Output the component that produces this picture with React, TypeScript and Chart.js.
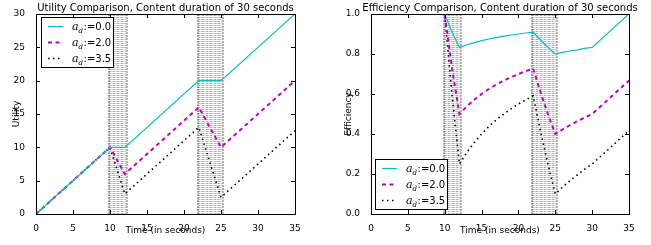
import React, { useEffect, useRef } from "react";
import { Chart, registerables } from "chart.js";
Chart.register(...registerables);

// ---------- data ----------
const timeUtility = [0, 10, 12, 22, 25, 35];
const utility00 = [0, 10, 10, 20, 20, 30];
const utility20 = [0, 10, 6, 16, 10, 20];
const utility35 = [0, 10, 3, 13, 2.5, 12.5];

const timeEfficiency = [0, 1, 2, 3, 4, 5, 6, 7, 8, 9, 10, 11, 12, 13, 14, 15, 16, 17, 18, 19, 20, 21, 22, 23, 24, 25, 26, 27, 28, 29, 30, 35];
const efficiency00 = [1, 1, 1, 1, 1, 1, 1, 1, 1, 1, 1, 0.909, 0.833, 0.846, 0.857, 0.867, 0.875, 0.882, 0.889, 0.895, 0.9, 0.905, 0.909, 0.87, 0.833, 0.8, 0.808, 0.815, 0.821, 0.828, 0.833, 1.0];
const efficiency20 = [1, 1, 1, 1, 1, 1, 1, 1, 1, 1, 1, 0.727, 0.5, 0.538, 0.571, 0.6, 0.625, 0.647, 0.667, 0.684, 0.7, 0.714, 0.727, 0.609, 0.5, 0.4, 0.423, 0.444, 0.464, 0.483, 0.5, 0.667];
const efficiency35 = [1, 1, 1, 1, 1, 1, 1, 1, 1, 1, 1, 0.591, 0.25, 0.308, 0.357, 0.4, 0.438, 0.471, 0.5, 0.526, 0.55, 0.571, 0.591, 0.413, 0.25, 0.1, 0.135, 0.167, 0.196, 0.224, 0.25, 0.417];

const stallStarts = [10, 22];
const stallEnds = [12, 25];
const seriesLabels = ["0.0", "2.0", "3.5"];
const seriesColors = ["#00bfbf", "#bf00bf", "#000000"];

const FONT = "'DejaVu Sans', sans-serif";

const styles = [
  { borderWidth: 1.2, borderDash: [] as number[] },
  { borderWidth: 2, borderDash: [4, 3.5] },
  { borderWidth: 1.6, borderDash: [1.5, 3.5] },
];

function makeDatasets(xs: number[], ys: number[][]) {
  return ys.map((arr, i) => ({
    label: seriesLabels[i],
    data: arr.map((v, j) => ({ x: xs[j], y: v })),
    borderColor: seriesColors[i],
    backgroundColor: seriesColors[i],
    borderWidth: styles[i].borderWidth,
    borderDash: styles[i].borderDash,
    pointRadius: 0,
    fill: false,
    tension: 0,
  }));
}

const customPlugin = {
  id: "mplLook",
  beforeDatasetsDraw(chart: any) {
    const { ctx, chartArea: a, scales } = chart;
    const xs = scales.x;
    ctx.save();
    ctx.beginPath();
    ctx.rect(a.left, a.top, a.right - a.left, a.bottom - a.top);
    ctx.clip();
    for (let k = 0; k < stallStarts.length; k++) {
      const x1 = Math.round(xs.getPixelForValue(stallStarts[k])) - 1.5;
      const x2 = Math.round(xs.getPixelForValue(stallEnds[k])) + 1.5;
      ctx.strokeStyle = "rgba(0,0,0,0.3)";
      ctx.lineWidth = 1;
      ctx.setLineDash([3, 1]);
      for (let y = a.top + 1; y < a.bottom; y += 2) {
        ctx.beginPath();
        ctx.moveTo(x1, y + 0.5);
        ctx.lineTo(x2, y + 0.5);
        ctx.stroke();
      }
      ctx.strokeStyle = "rgba(0,0,0,0.55)";
      ctx.setLineDash([2, 1]);
      [x1, x2].forEach((x) => {
        ctx.beginPath();
        ctx.moveTo(x + 0.5, a.top);
        ctx.lineTo(x + 0.5, a.bottom);
        ctx.stroke();
      });
    }
    ctx.restore();
  },
  afterDatasetsDraw(chart: any) {
    const { ctx, chartArea: a, scales } = chart;
    ctx.save();
    ctx.strokeStyle = "#000";
    ctx.lineWidth = 1;
    ctx.setLineDash([]);
    const L = 4;
    scales.x.ticks.forEach((t: any) => {
      const x = Math.round(scales.x.getPixelForValue(t.value)) + 0.5;
      ctx.beginPath();
      ctx.moveTo(x, a.bottom);
      ctx.lineTo(x, a.bottom - L);
      ctx.moveTo(x, a.top);
      ctx.lineTo(x, a.top + L);
      ctx.stroke();
    });
    scales.y.ticks.forEach((t: any) => {
      const y = Math.round(scales.y.getPixelForValue(t.value)) + 0.5;
      ctx.beginPath();
      ctx.moveTo(a.left, y);
      ctx.lineTo(a.left + L, y);
      ctx.moveTo(a.right, y);
      ctx.lineTo(a.right - L, y);
      ctx.stroke();
    });
    ctx.strokeRect(Math.round(a.left) + 0.5, Math.round(a.top) + 0.5, Math.round(a.right - a.left), Math.round(a.bottom - a.top));
    ctx.restore();
  },
  afterDraw(chart: any, _args: any, opts: any) {
    const { ctx, chartArea: a } = chart;
    ctx.save();
    // title
    ctx.fillStyle = "#000";
    ctx.font = `10px ${FONT}`;
    ctx.textAlign = "center";
    ctx.textBaseline = "alphabetic";
    ctx.fillText(opts.title, (a.left + a.right) / 2, 10.5);
    // x axis title
    ctx.font = `9px ${FONT}`;
    ctx.fillText("Time (in seconds)", (a.left + a.right) / 2, 233);
    // y axis title
    ctx.save();
    ctx.translate(opts.yTitleX, (a.top + a.bottom) / 2);
    ctx.rotate(-Math.PI / 2);
    ctx.textBaseline = "middle";
    ctx.fillText(opts.yTitle, 0, 0);
    ctx.restore();
    // legend
    const bw = 72, bh = 50;
    const bx = Math.round(a.left) + opts.legendDx;
    const by = opts.legendPos === "top" ? Math.round(a.top) + 3 : Math.round(a.bottom) - 5 - bh;
    ctx.fillStyle = "#fff";
    ctx.fillRect(bx, by, bw, bh);
    ctx.strokeStyle = "#000";
    ctx.lineWidth = 1;
    ctx.setLineDash([]);
    ctx.strokeRect(bx + 0.5, by + 0.5, bw, bh);
    const ds = chart.data.datasets;
    for (let i = 0; i < ds.length; i++) {
      const ry = by + 9 + i * 16;
      ctx.strokeStyle = ds[i].borderColor;
      ctx.lineWidth = ds[i].borderWidth;
      ctx.setLineDash(ds[i].borderDash);
      ctx.beginPath();
      ctx.moveTo(bx + 7, ry + 0.5);
      ctx.lineTo(bx + 22, ry + 0.5);
      ctx.stroke();
      ctx.setLineDash([]);
      ctx.fillStyle = "#000";
      ctx.textAlign = "left";
      ctx.textBaseline = "alphabetic";
      let tx = bx + 31;
      const base = ry + 4;
      ctx.font = "italic 11px 'DejaVu Serif', serif";
      ctx.fillText("a", tx, base);
      tx += ctx.measureText("a").width;
      ctx.font = "italic 7px 'DejaVu Serif', serif";
      ctx.fillText("d", tx, base + 2.5);
      tx += ctx.measureText("d").width + 0.5;
      ctx.font = `10px ${FONT}`;
      ctx.fillText(":=" + ds[i].label, tx, base);
    }
    ctx.restore();
  },
};

function buildConfig(o: {
  xs: number[];
  ys: number[][];
  yMax: number;
  yStep: number;
  yFmt: (v: number) => string;
  yWidth: number;
  padRight: number;
  title: string;
  yTitle: string;
  yTitleX: number;
  legendPos: string;
  legendDx: number;
}) {
  return {
    type: "line" as const,
    data: { datasets: makeDatasets(o.xs, o.ys) },
    plugins: [customPlugin],
    options: {
      animation: false,
      responsive: false,
      maintainAspectRatio: false,
      layout: { padding: { top: 14, right: o.padRight, left: 0, bottom: 0 } },
      plugins: {
        legend: { display: false },
        tooltip: { enabled: false },
        title: { display: false },
        mplLook: { title: o.title, yTitle: o.yTitle, yTitleX: o.yTitleX, legendPos: o.legendPos, legendDx: o.legendDx },
      },
      scales: {
        x: {
          type: "linear",
          min: 0,
          max: 35,
          ticks: { stepSize: 5, padding: 1, color: "#000", font: { family: FONT, size: 9 }, maxRotation: 0 },
          grid: { display: false },
          border: { display: false },
          afterFit: (s: any) => { s.height = 31; },
        },
        y: {
          type: "linear",
          min: 0,
          max: o.yMax,
          ticks: { stepSize: o.yStep, padding: 3, color: "#000", font: { family: FONT, size: 9 }, callback: (v: any) => o.yFmt(Number(v)) },
          grid: { display: false },
          border: { display: false },
          afterFit: (s: any) => { s.width = o.yWidth; },
        },
      },
    },
  };
}

function ChartBox(props: { cfg: any; width: number; height: number; left: number }) {
  const ref = useRef<HTMLCanvasElement | null>(null);
  useEffect(() => {
    if (!ref.current) return;
    const c = new Chart(ref.current, props.cfg);
    return () => c.destroy();
  }, []);
  return (
    <div style={{ position: "absolute", left: props.left, top: 0, width: props.width, height: props.height }}>
      <canvas ref={ref} width={props.width} height={props.height} style={{ width: props.width, height: props.height, display: "block" }} />
    </div>
  );
}

export default function App() {
  const utilCfg = buildConfig({
    xs: timeUtility,
    ys: [utility00, utility20, utility35],
    yMax: 30,
    yStep: 5,
    yFmt: (v) => String(v),
    yWidth: 36,
    padRight: 35,
    title: "Utility Comparison, Content duration of 30 seconds",
    yTitle: "Utility",
    yTitleX: 17,
    legendPos: "top",
    legendDx: 5,
  });
  const effCfg = buildConfig({
    xs: timeEfficiency,
    ys: [efficiency00, efficiency20, efficiency35],
    yMax: 1,
    yStep: 0.2,
    yFmt: (v) => v.toFixed(1),
    yWidth: 41,
    padRight: 22,
    title: "Efficiency Comparison, Content duration of 30 seconds",
    yTitle: "Efficiency",
    yTitleX: 19,
    legendPos: "bottom",
    legendDx: 4,
  });
  return (
    <div style={{ position: "fixed", left: 0, top: 0, width: 651, height: 245, background: "#fff", overflow: "hidden" }}>
      <ChartBox cfg={utilCfg} width={330} height={245} left={0} />
      <ChartBox cfg={effCfg} width={321} height={245} left={330} />
    </div>
  );
}
